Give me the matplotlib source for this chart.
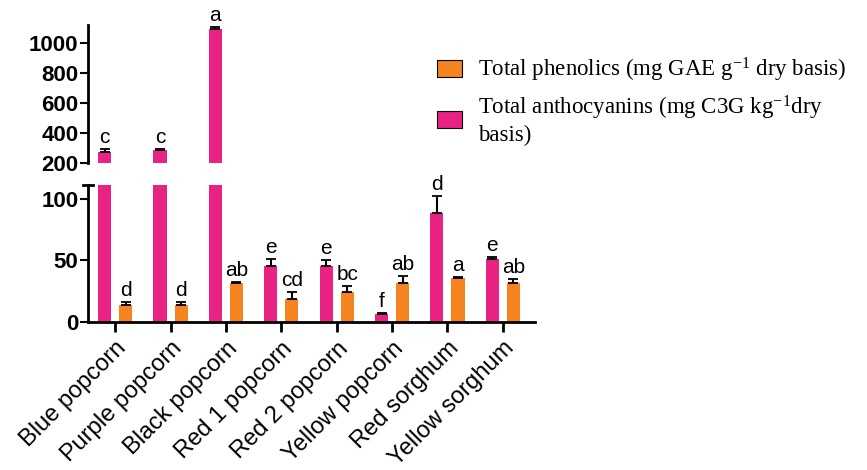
import numpy as np
import matplotlib
matplotlib.use("Agg")
import matplotlib.pyplot as plt
from matplotlib.patches import Patch
from matplotlib.lines import Line2D

plt.rcParams['font.family'] = ['Liberation Sans', 'DejaVu Sans']
plt.rcParams['mathtext.fontset'] = 'custom'
plt.rcParams['mathtext.rm'] = 'Liberation Serif'
plt.rcParams['mathtext.it'] = 'Liberation Serif:italic'

# samples and measured values
samples = ['Blue popcorn', 'Purple popcorn', 'Black popcorn', 'Red 1 popcorn',
           'Red 2 popcorn', 'Yellow popcorn', 'Red sorghum', 'Yellow sorghum']
antho = [273, 288, 1089, 45, 45, 6.5, 88, 51]
antho_err = [20, 2, 15, 6, 5, 0.5, 14, 2]
antho_letters = ['c', 'c', 'a', 'e', 'e', 'f', 'd', 'e']
phen = [14, 14, 32, 19, 24, 32, 36, 32]
phen_err = [2, 2, 0.5, 5, 5, 5, 0.5, 3]
phen_letters = ['d', 'd', 'ab', 'cd', 'bc', 'ab', 'a', 'ab']

pink = '#EA2283'
orange = '#F5831F'

fig = plt.figure(figsize=(8.67, 4.70), dpi=100)
left, width = 88/867, (535-88)/867
ax_hi = fig.add_axes([left, 1-163/470, width, (163-25)/470])
ax_lo = fig.add_axes([left, 1-322/470, width, (322-185)/470])

x = np.arange(len(samples))
bw = 0.235
off = 0.19

for ax in (ax_hi, ax_lo):
    ax.bar(x - off, antho, bw, color=pink, zorder=2)
    ax.bar(x + off, phen, bw, color=orange, zorder=2)
    ax.errorbar(x - off, antho, yerr=[np.zeros(len(x)), antho_err], fmt='none',
                ecolor='black', elinewidth=1.5, capsize=3.5, capthick=1.3, zorder=3)
    ax.errorbar(x + off, phen, yerr=[np.zeros(len(x)), phen_err], fmt='none',
                ecolor='black', elinewidth=1.5, capsize=3.5, capthick=1.3, zorder=3)
    ax.set_xlim(-0.49, 7.58)
    for s in ('top', 'right'):
        ax.spines[s].set_visible(False)
    ax.spines['left'].set_linewidth(2)
    ax.spines['bottom'].set_linewidth(2)
    ax.tick_params(axis='y', length=6, width=1.5, labelsize=16, pad=1)

# upper panel: 200 .. top
ax_hi.set_ylim(200, 1117)
ax_hi.set_yticks([200, 400, 600, 800, 1000])
ax_hi.spines['bottom'].set_visible(False)
ax_hi.tick_params(axis='x', bottom=False, labelbottom=False)

# lower panel: 0 .. ~110
ax_lo.set_ylim(0, 111)
ax_lo.set_yticks([0, 50, 100])
ax_lo.set_xticks(x)
ax_lo.set_xticklabels(samples, rotation=45, ha='right', rotation_mode='anchor', fontsize=17)
ax_lo.tick_params(axis='x', length=7, width=2, pad=4)
ax_lo.add_line(Line2D([-0.012, 0.012], [1, 1], transform=ax_lo.transAxes,
                      color='black', lw=2, clip_on=False))

for ax in (ax_hi, ax_lo):
    for lab in ax.get_yticklabels():
        lab.set_fontweight('bold')

# significance letters
for i in range(len(x)):
    top = antho[i] + antho_err[i]
    ax = ax_hi if antho[i] > 200 else ax_lo
    ax.annotate(antho_letters[i], (x[i] - off, top), xytext=(0, 1.5),
                textcoords='offset points', ha='center', va='bottom',
                fontsize=15, annotation_clip=False)
    ax_lo.annotate(phen_letters[i], (x[i] + off, phen[i] + phen_err[i]), xytext=(0, 1.5),
                   textcoords='offset points', ha='center', va='bottom',
                   fontsize=15, annotation_clip=False)

handles = [Patch(facecolor=orange, edgecolor='black', lw=0.8),
           Patch(facecolor=pink, edgecolor='black', lw=0.8)]
labels = ['Total phenolics (mg GAE g$^{-1}$ dry basis)',
          'Total anthocyanins (mg C3G kg$^{-1}$dry\nbasis)']
fig.legend(handles, labels, loc='upper left', bbox_to_anchor=(437/867, 1-56/470),
           frameon=False, borderpad=0, borderaxespad=0, handlelength=1.1,
           handleheight=0.78, handletextpad=0.7, labelspacing=0.4,
           prop={'family': 'Liberation Serif', 'size': 16.5})

fig.savefig('out.png', dpi=100)
